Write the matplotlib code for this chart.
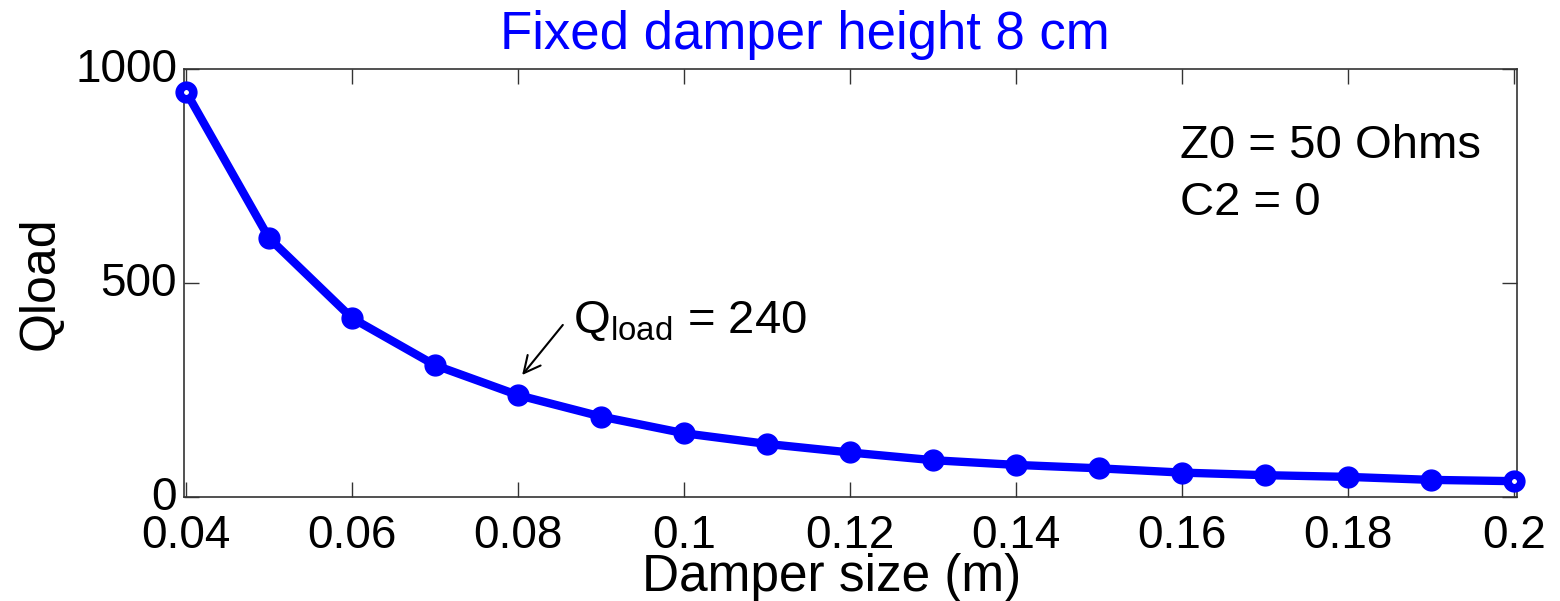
import matplotlib
matplotlib.use("Agg")
import matplotlib.pyplot as plt
import matplotlib.transforms as mtransforms

damper_size = [0.04, 0.05, 0.06, 0.07, 0.08, 0.09, 0.10, 0.11, 0.12,
               0.13, 0.14, 0.15, 0.16, 0.17, 0.18, 0.19, 0.20]
qload = [947, 605, 418, 308, 238, 188, 149, 124, 104,
         86, 75, 67, 57, 51, 47, 40, 37]
xticks = [0.04, 0.06, 0.08, 0.1, 0.12, 0.14, 0.16, 0.18, 0.2]
xtick_labels = ["0.04", "0.06", "0.08", "0.1", "0.12", "0.14", "0.16", "0.18", "0.2"]
yticks = [0, 500, 1000]
ytick_labels = ["0", "500", "1000"]

plt.rcParams['font.family'] = ['Liberation Sans', 'DejaVu Sans']
plt.rcParams['mathtext.fontset'] = 'custom'
plt.rcParams['mathtext.rm'] = 'Liberation Sans'
plt.rcParams['mathtext.it'] = 'Liberation Sans'

W, H = 1560, 601
fig = plt.figure(figsize=(15.6, 6.01), dpi=100)
ax = fig.add_axes([184/W, 1-497/H, (1517-184)/W, (497-69)/H])

blue = '#0000ff'
ax.plot(damper_size, qload, color=blue, lw=6, marker='o', ms=15,
        mfc=blue, mec=blue, clip_on=False, zorder=3)
ax.plot([damper_size[0], damper_size[-1]], [qload[0], qload[-1]], ls='none',
        marker='o', ms=9, mfc='white', mec=blue, mew=5.4, clip_on=False, zorder=4)

ax.set_xlim(0.03976, 0.20036)
ax.set_ylim(0, 1000)
ax.set_xticks(xticks)
ax.set_xticklabels(xtick_labels)
ax.set_yticks(yticks)
ax.set_yticklabels(ytick_labels)
ax.tick_params(direction='in', length=11, width=1, labelsize=33,
               top=True, right=True, color='#333333')
ax.tick_params(axis='x', pad=12)
ax.tick_params(axis='y', pad=5)
offset = mtransforms.ScaledTranslation(0, 4/100, fig.dpi_scale_trans)
for lab in ax.get_yticklabels():
    lab.set_transform(lab.get_transform() + offset)
for s in ax.spines.values():
    s.set_color('#333333')
    s.set_linewidth(1.2)

fig.text(805/W, 1-35/H, 'Fixed damper height 8 cm', color=blue, fontsize=38,
         ha='center', va='center')
fig.text(832/W, 1-578/H, 'Damper size (m)', fontsize=37, ha='center', va='center')
ax.set_ylabel('Qload', fontsize=36, labelpad=8)

fig.text(1180/W, 1-158/H, 'Z0 = 50 Ohms', fontsize=34, ha='left', va='baseline')
fig.text(1180/W, 1-215/H, 'C2 = 0', fontsize=34, ha='left', va='baseline')

ax.text(0.0866, 383, 'Q$_{\\mathrm{load}}$ = 240', fontsize=34, ha='left', va='baseline')
ax.annotate('', xy=(0.0805, 285), xytext=(0.0854, 402),
            arrowprops=dict(arrowstyle='->', color='black', lw=1.5,
                            mutation_scale=30, shrinkA=0, shrinkB=0))

fig.savefig('out.png', dpi=100)
